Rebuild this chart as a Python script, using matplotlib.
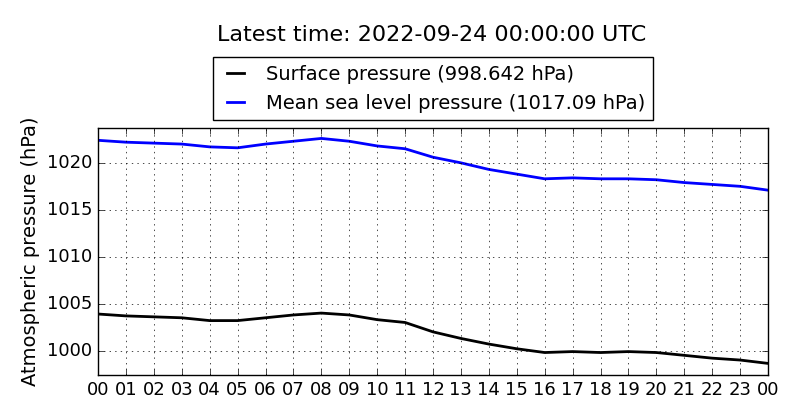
import matplotlib
matplotlib.use("Agg")
from matplotlib import pyplot as plt

# hourly readings, 00 to 00 next day
hours = list(range(25))
hour_labels = [f"{h % 24:02d}" for h in hours]
surface = [1003.9, 1003.7, 1003.6, 1003.5, 1003.2, 1003.2, 1003.5, 1003.8, 1004.0,
           1003.8, 1003.3, 1003.0, 1002.0, 1001.3, 1000.7, 1000.2, 999.8, 999.9,
           999.8, 999.9, 999.8, 999.5, 999.2, 999.0, 998.642]
msl = [1022.4, 1022.2, 1022.1, 1022.0, 1021.7, 1021.6, 1022.0, 1022.3, 1022.6,
       1022.3, 1021.8, 1021.5, 1020.6, 1020.0, 1019.3, 1018.8, 1018.3, 1018.4,
       1018.3, 1018.3, 1018.2, 1017.9, 1017.7, 1017.5, 1017.09]

plt.style.use("classic")
fig = plt.figure(figsize=(8, 4.2), dpi=100)
ax = fig.add_axes([0.1225, 0.107, 0.8375, 0.588])

ax.plot(hours, surface, color="k", lw=2, label="Surface pressure (998.642 hPa)")
ax.plot(hours, msl, color="b", lw=2, label="Mean sea level pressure (1017.09 hPa)")

ax.set_xlim(0, 24)
ax.set_ylim(997.4, 1023.7)
ax.set_xticks(hours)
ax.set_xticklabels(hour_labels, fontsize=13)
ax.set_yticks([1000, 1005, 1010, 1015, 1020])
ax.ticklabel_format(axis="y", useOffset=False)
ax.tick_params(axis="y", labelsize=13)
ax.grid(True, linestyle=":", color="k")
ax.set_ylabel("Atmospheric pressure (hPa)", fontsize=14)

ax.legend(loc="lower center", bbox_to_anchor=(0.5, 1.0), fontsize=14,
          handlelength=1.5, borderaxespad=0.4)
fig.text(0.54, 0.917, "Latest time: 2022-09-24 00:00:00 UTC", ha="center",
         va="center", fontsize=16)

fig.savefig("out.png", dpi=100)
